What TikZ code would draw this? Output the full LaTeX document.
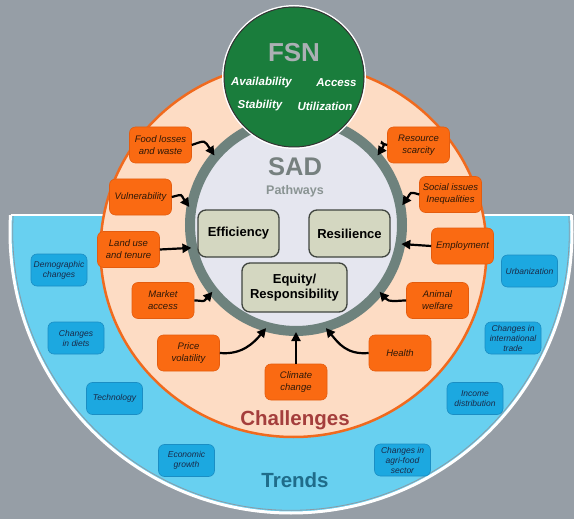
\documentclass[tikz,border=0pt]{standalone}
\usepackage{fontspec}
\setmainfont{Liberation Sans}
\usetikzlibrary{arrows.meta}

\definecolor{bggray}{HTML}{969EA6}
\definecolor{trendfill}{HTML}{68D0F0}
\definecolor{trendedge}{HTML}{8A9AA5}
\definecolor{trbox}{HTML}{1CA8E0}
\definecolor{trline}{HTML}{1A8EC4}
\definecolor{trtext}{HTML}{1A2A48}
\definecolor{peach}{HTML}{FDDCC4}
\definecolor{orline}{HTML}{F06A1E}
\definecolor{orbox}{HTML}{FA6A12}
\definecolor{orboxline}{HTML}{E45C0E}
\definecolor{ortext}{HTML}{2E1808}
\definecolor{ringgray}{HTML}{6E827D}
\definecolor{sadfill}{HTML}{E5E6EF}
\definecolor{sadtext}{HTML}{76807F}
\definecolor{pathtext}{HTML}{8A9493}
\definecolor{pathfill}{HTML}{D4D7C1}
\definecolor{pathline}{HTML}{40453F}
\definecolor{fsngreen}{HTML}{1A7D3C}
\definecolor{fsntext}{HTML}{ABB0B4}
\definecolor{chaltext}{HTML}{A43E3C}
\definecolor{trendtext}{HTML}{1F6C8A}

\begin{document}
\begin{tikzpicture}[x=1pt,y=-1pt,
  challenge/.style={rectangle, rounded corners=6pt, fill=orbox, draw=orboxline,
    line width=0.6pt, minimum width=62pt, minimum height=36pt, inner sep=1pt,
    align=center, text=ortext, font=\fontsize{9.5}{12}\selectfont\itshape},
  trend/.style={rectangle, rounded corners=6pt, fill=trbox, draw=trline,
    line width=0.6pt, minimum width=56pt, minimum height=32pt, inner sep=1pt,
    align=center, text=trtext, font=\fontsize{8.5}{10}\selectfont\itshape},
  pathway/.style={rectangle, rounded corners=8pt, fill=pathfill, draw=pathline,
    line width=1.3pt, inner sep=1pt, align=center,
    font=\fontsize{13}{15.5}\selectfont\bfseries},
  fsnitem/.style={text=white, font=\fontsize{11.5}{13}\selectfont\bfseries\itshape},
  arr/.style={-{Triangle[length=9pt,width=9pt]}, line width=2.2pt, black,
    shorten >=-4pt},
  title/.style={font=\fontsize{20.5}{24}\selectfont\bfseries}
]
\useasboundingbox (0,0) rectangle (574,519);
\fill[bggray] (0,0) rectangle (574,519);

% outer half-disc: trends
\begin{scope}
  \clip (0,215) rectangle (574,519);
  \fill[trendfill] (291,232) circle (281);
  \draw[white, line width=3pt] (291,232) circle (281);
  \draw[trendedge, line width=0.8pt] (291,232) circle (278.3);
\end{scope}
\draw[white, line width=2pt] (10.5,215) -- (571.5,215);

% challenges disc
\fill[peach, draw=orline, line width=2.5pt] (293.5,250) ellipse (193 and 187);

% SAD pathways ring
\node[circle, draw=ringgray, fill=sadfill, line width=10pt, minimum size=212pt,
  inner sep=0pt] (sad) at (296,225) {};

% FSN disc with its light halo
\draw[white, line width=1.5pt] (294,77) circle (71.2);
\node[circle, fill=fsngreen, draw=black!80, line width=1pt, minimum size=140pt,
  inner sep=0pt] (fsn) at (294,77) {};
\node[text=fsntext, font=\fontsize{26}{28}\selectfont\bfseries] (fsnlabel) at (294,53) {FSN};
\node[fsnitem] (avail) at (261.5,83) {Availability};
\node[fsnitem] (access) at (336.5,83) {Access};
\node[fsnitem] (stab) at (260,106) {Stability};
\node[fsnitem] (util) at (325,106) {Utilization};

% SAD titles
\node[text=sadtext, font=\fontsize{25.5}{28}\selectfont\bfseries] (sadlabel) at (295,167) {SAD};
\node[text=pathtext, font=\fontsize{12.5}{14}\selectfont\bfseries] (pathlabel) at (295,191) {Pathways};

% pathways
\node[pathway, minimum width=81pt, minimum height=47pt] (eff) at (238.5,233.5) {Efficiency};
\node[pathway, minimum width=81pt, minimum height=47pt] (res) at (349.5,233.5) {Resilience};
\node[pathway, minimum width=105pt, minimum height=49pt] (equ) at (294.5,287.5) {Equity/\\Responsibility};

% challenges
\node[challenge] (food) at (160.5,145) {Food losses\\and waste};
\node[challenge] (vul) at (140.5,197) {Vulnerability};
\node[challenge] (land) at (128.5,249.5) {Land use\\and tenure};
\node[challenge] (market) at (163,300.5) {Market\\access};
\node[challenge] (price) at (188.5,353) {Price\\volatility};
\node[challenge] (climate) at (296,382) {Climate\\change};
\node[challenge] (health) at (400,353) {Health};
\node[challenge] (animal) at (437.5,300.5) {Animal\\welfare};
\node[challenge] (employ) at (462.5,246) {Employment};
\node[challenge] (social) at (450.5,194.5) {Social issues\\Inequalities};
\node[challenge] (scarce) at (418.5,145) {Resource\\scarcity};

% challenge arrows onto the ring
\draw[arr] (food.east) .. controls +(14,-5) and +(-8,-12) .. (sad.139);
\draw[arr] (vul.east) .. controls +(12,-3) and +(-7,-10) .. (sad.169);
\draw[arr] (land.east) -- (sad.192.7);
\draw[arr] (market.east) .. controls +(10,0) and +(-7,8) .. (sad.219);
\draw[arr] (price.east) .. controls +(22,2) and +(-10,12) .. (sad.253);
\draw[arr] (climate.north) -- (sad.south);
\draw[arr] (health.west) .. controls +(-22,2) and +(10,12) .. (sad.287);
\draw[arr] (animal.west) .. controls +(-10,0) and +(7,8) .. (sad.321);
\draw[arr] (employ.west) -- (sad.-10.9);
\draw[arr] (social.west) .. controls +(-10,-3) and +(7,-10) .. (sad.12);
\draw[arr] (scarce.west) .. controls +(-13,-3) and +(8,-12) .. (sad.41);

% trends
\node[trend] (demo) at (59,270) {Demographic\\changes};
\node[trend] (diets) at (76,338) {Changes\\in diets};
\node[trend] (tech) at (114.5,398.5) {Technology};
\node[trend] (econ) at (186.5,460.5) {Economic\\growth};
\node[trend] (agri) at (402.5,460) {Changes in\\agri-food\\sector};
\node[trend] (income) at (475,398.5) {Income\\distribution};
\node[trend] (trade) at (513,338) {Changes in\\international\\trade};
\node[trend] (urban) at (529.5,271) {Urbanization};

% ring titles
\node[title, text=chaltext] (chal) at (295,420) {Challenges};
\node[title, text=trendtext] (trends) at (295,480) {Trends};
\end{tikzpicture}
\end{document}
